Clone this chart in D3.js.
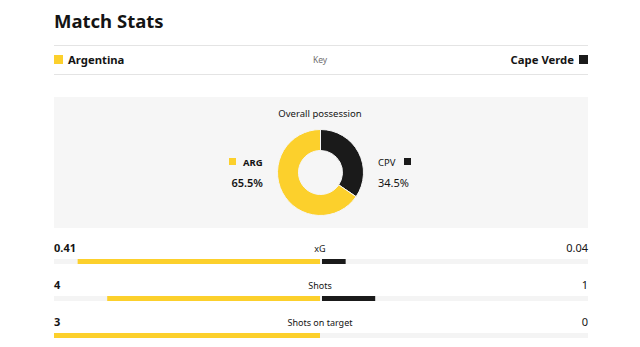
<!DOCTYPE html>
<html><head><meta charset="utf-8">
<script src="https://cdn.jsdelivr.net/npm/d3@7/dist/d3.min.js"></script>
<style>body{margin:0;background:#fff}svg{display:block}text{font-family:"Noto Sans",sans-serif}</style>
</head><body><svg id="c" width="640" height="347"></svg>
<script>
const teams = ["Argentina", "Cape Verde"];
const teamCodes = ["ARG", "CPV"];
const possession = [65.5, 34.5];
const statNames = ["xG", "Shots", "Shots on target"];
const homeValues = [0.41, 4, 3];
const awayValues = [0.04, 1, 0];
const homeLabels = ["0.41", "4", "3"];
const awayLabels = ["0.04", "1", "0"];

const YEL = "#fcd02c", BLK = "#1a1a1a", TXT = "#141414";
const svg = d3.select("#c");
const L = 54, R = 588, MID = 320;

svg.append("text").attr("x", L).attr("y", 28).attr("font-size", 18.5).attr("font-weight", 700)
  .attr("fill", TXT).text("Match Stats");
[45, 74].forEach(y => svg.append("line").attr("x1", L).attr("x2", R).attr("y1", y + .5).attr("y2", y + .5)
  .attr("stroke", "#e4e4e4"));

// Key row
svg.append("rect").attr("x", L).attr("y", 55).attr("width", 9).attr("height", 9).attr("fill", YEL);
svg.append("text").attr("x", 68).attr("y", 64).attr("font-size", 11.3).attr("font-weight", 700).attr("fill", TXT).text(teams[0]);
svg.append("text").attr("x", MID).attr("y", 63).attr("font-size", 8.5).attr("text-anchor", "middle").attr("fill", "#6e6e6e").text("Key");
svg.append("rect").attr("x", R - 9).attr("y", 55).attr("width", 9).attr("height", 9).attr("fill", BLK);
svg.append("text").attr("x", R - 14).attr("y", 64).attr("font-size", 11.3).attr("font-weight", 700).attr("text-anchor", "end").attr("fill", TXT).text(teams[1]);

// Possession panel
svg.append("rect").attr("x", L).attr("y", 97).attr("width", R - L).attr("height", 131).attr("fill", "#f6f6f6");
svg.append("text").attr("x", MID).attr("y", 117).attr("font-size", 9.5).attr("text-anchor", "middle").attr("fill", TXT).text("Overall possession");

const pieData = d3.pie().sort(null).value(d => d.v)([{k: 1, v: possession[1]}, {k: 0, v: possession[0]}]);
const arc = d3.arc().innerRadius(22).outerRadius(43);
const g = svg.append("g").attr("transform", "translate(320.5,172.5)");
g.selectAll("path").data(pieData).join("path").attr("d", arc)
  .attr("fill", d => d.data.k === 0 ? YEL : BLK).attr("stroke", "#f6f6f6").attr("stroke-width", 1);

svg.append("rect").attr("x", 229).attr("y", 158).attr("width", 7).attr("height", 7).attr("fill", YEL);
svg.append("text").attr("x", 243).attr("y", 166).attr("font-size", 9.5).attr("font-weight", 700).attr("fill", TXT).text(teamCodes[0]);
svg.append("text").attr("x", 263).attr("y", 187).attr("font-size", 11).attr("font-weight", 600).attr("text-anchor", "end").attr("fill", TXT).text(possession[0] + "%");
svg.append("text").attr("x", 378).attr("y", 166).attr("font-size", 9.5).attr("fill", TXT).text(teamCodes[1]);
svg.append("rect").attr("x", 404).attr("y", 158).attr("width", 7).attr("height", 7).attr("fill", BLK);
svg.append("text").attr("x", 378).attr("y", 187).attr("font-size", 11).attr("fill", TXT).text(possession[1] + "%");

// Stat rows
const rowY = d3.scalePoint().domain(statNames).range([252, 326]);
statNames.forEach((s, i) => {
  const y = rowY(s);
  const tot = homeValues[i] + awayValues[i];
  const xl = d3.scaleLinear().domain([0, tot]).range([MID, L]);
  const xr = d3.scaleLinear().domain([0, tot]).range([MID + 2, R]);
  svg.append("text").attr("x", L).attr("y", y).attr("font-size", 11).attr("font-weight", 700).attr("fill", TXT).text(homeLabels[i]);
  svg.append("text").attr("x", R).attr("y", y).attr("font-size", 11).attr("text-anchor", "end").attr("fill", TXT).text(awayLabels[i]);
  svg.append("text").attr("x", MID).attr("y", y).attr("font-size", 9).attr("text-anchor", "middle").attr("fill", TXT).text(s);
  const by = y + 7;
  svg.append("rect").attr("x", L).attr("y", by).attr("width", R - L).attr("height", 5).attr("fill", "#f4f4f4");
  svg.append("rect").attr("x", xl(homeValues[i])).attr("y", by).attr("width", MID - xl(homeValues[i])).attr("height", 5).attr("fill", YEL);
  if (awayValues[i] > 0)
    svg.append("rect").attr("x", MID + 2).attr("y", by).attr("width", xr(awayValues[i]) - (MID + 2)).attr("height", 5).attr("fill", BLK);
});
</script></body></html>
